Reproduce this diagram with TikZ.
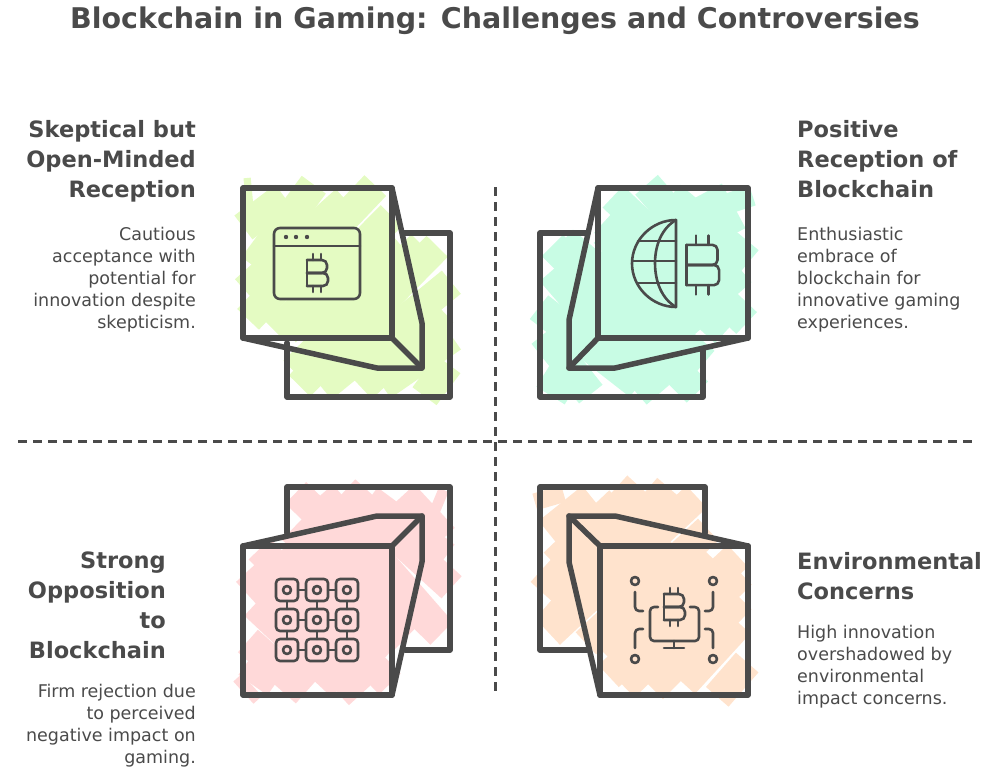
\documentclass[tikz,border=0pt]{standalone}
\usepackage{fontspec}
\setmainfont{DejaVu Sans}
\definecolor{ink}{HTML}{4A4A4A}
\definecolor{limefill}{HTML}{E4FBC2}
\definecolor{mintfill}{HTML}{C8FCE4}
\definecolor{pinkfill}{HTML}{FFD9D9}
\definecolor{peachfill}{HTML}{FFE3CD}

\newcommand{\scribble}[6]{%
    \begin{scope}[shift={(#2,#3)}, xscale=#6]
        \foreach \s in {20,50,...,\numexpr#4+#5-8\relax} {
            \pgfmathsetmacro{\pa}{rand*7}
            \pgfmathsetmacro{\pb}{rand*7}
            \pgfmathsetmacro{\la}{rand*4}
            \pgfmathsetmacro{\lb}{rand*4}
            \pgfmathsetmacro{\ax}{min(\s,#4)-6+\pa+\la}
            \pgfmathsetmacro{\ay}{\s-min(\s,#4)+6+\pa-\la}
            \pgfmathsetmacro{\bx}{\s-min(\s,#5)+6+\pb+\lb}
            \pgfmathsetmacro{\by}{min(\s,#5)-6+\pb-\lb}
            \draw[#1, line width=30pt] (\ax,\ay) -- (\bx,\by);
        }
    \end{scope}
}

\begin{document}
\begin{tikzpicture}[x=1pt, y=-1pt,
    outline/.style={draw=ink, line width=5.5pt, line join=round, line cap=round},
    glyph/.style={draw=ink, line width=2.6pt, line join=round, line cap=round},
    divider/.style={draw=ink, line width=3pt, dash pattern=on 9pt off 6pt},
    heading/.style={inner sep=0pt, text=ink, font=\fontsize{22.5}{30}\selectfont\bfseries},
    blurb/.style={inner sep=0pt, text=ink, font=\fontsize{17.5}{22}\selectfont},
    bitcoin/.pic={
        \draw[glyph, rounded corners=5pt] (-10,-13) -- (10,-13) -- (10,0) -- (-10,0);
        \draw[glyph, rounded corners=5pt] (-10,0) -- (11,0) -- (11,13) -- (-10,13);
        \draw[glyph] (-10,-13) -- (-10,13);
        \foreach \t in {-4,4} {
            \draw[glyph] (\t,-13) -- (\t,-19);
            \draw[glyph] (\t,13) -- (\t,19);
        }
    }]
    \useasboundingbox (0,0) rectangle (1003,776);
    \pgfmathsetseed{4242}

    \node[anchor=base, inner sep=0pt, text=ink, font=\fontsize{28.5}{30}\selectfont\bfseries] (title) at (495,29)
        {Blockchain in Gaming: Challenges and Controversies};

    % colour under the squares
    \scribble{limefill}{287}{233}{163}{164}{1}
    \scribble{limefill}{243}{188}{149}{150}{1}
    \scribble{mintfill}{703}{233}{163}{164}{-1}
    \scribble{mintfill}{748}{188}{150}{150}{-1}
    \scribble{pinkfill}{450}{487}{163}{163}{-1}
    \scribble{pinkfill}{392}{546}{149}{149}{-1}
    \scribble{peachfill}{540}{487}{165}{163}{1}
    \scribble{peachfill}{600}{546}{148}{149}{1}

    % top left
    \draw[outline] (403,233) -- (450,233) -- (450,397) -- (287,397) -- (287,343);
    \draw[outline] (392,188) -- (422,323) -- (422,368) -- (377,368) -- (243,338);
    \draw[outline] (392,338) -- (422,368);
    \draw[outline] (243,188) rectangle (392,338);
    \draw[glyph, rounded corners=6pt] (274,228) rectangle (360,299);
    \draw[glyph] (274,246) -- (360,246);
    \foreach \x in {286,296,307} \fill[ink] (\x,237) circle (2.2);
    \pic[scale=1] at (317,273) {bitcoin};

    % top right
    \draw[outline] (588,233) -- (540,233) -- (540,397) -- (703,397) -- (703,350);
    \draw[outline] (598,188) -- (569,320) -- (569,368) -- (615,368) -- (748,338);
    \draw[outline] (598,338) -- (569,368);
    \draw[outline] (598,188) rectangle (748,338);
    \draw[glyph] (676,220) .. controls (652,220) and (632,240) .. (632,263.5)
        .. controls (632,287) and (652,307) .. (676,307) -- cycle;
    \draw[glyph] (676,220) .. controls (662,228) and (655,245) .. (655,263)
        .. controls (655,282) and (662,299) .. (676,307);
    \draw[glyph] (638,241) -- (676,241);
    \draw[glyph] (632,261) -- (676,261);
    \draw[glyph] (637,283) -- (676,283);
    \pic[scale=1.55] at (702,265) {bitcoin};

    % bottom left
    \draw[outline] (405,650) -- (450,650) -- (450,487) -- (287,487) -- (287,533);
    \draw[outline] (243,546) -- (377,516) -- (422,516) -- (422,562) -- (392,695);
    \draw[outline] (392,546) -- (422,516);
    \draw[outline] (243,546) rectangle (392,695);
    \foreach \x in {287,317,347} {
        \foreach \y in {590,620,650} {
            \draw[glyph, rounded corners=4pt] (\x-11,\y-11) rectangle (\x+11,\y+11);
            \draw[glyph] (\x,\y) circle (4);
        }
        \draw[glyph] (\x,601) -- (\x,609);
        \draw[glyph] (\x,631) -- (\x,639);
    }
    \foreach \y in {590,620,650} {
        \draw[glyph] (298,\y) -- (306,\y);
        \draw[glyph] (328,\y) -- (336,\y);
    }

    % bottom right
    \draw[outline] (705,533) -- (705,487) -- (540,487) -- (540,650) -- (587,650);
    \draw[outline] (748,546) -- (615,516) -- (569,516) -- (569,562) -- (600,695);
    \draw[outline] (569,516) -- (600,546);
    \draw[outline] (600,546) rectangle (748,695);
    \foreach \x in {635,713} {
        \draw[glyph] (\x,581) circle (4);
        \draw[glyph] (\x,659) circle (4);
    }
    \draw[glyph, rounded corners=4pt] (635,592) -- (635,611) -- (643,611);
    \draw[glyph, rounded corners=4pt] (713,592) -- (713,611) -- (705,611);
    \draw[glyph, rounded corners=4pt] (635,648) -- (635,629) -- (643,629);
    \draw[glyph, rounded corners=4pt] (713,648) -- (713,629) -- (705,629);
    \draw[glyph, rounded corners=4pt] (658,607) -- (650,607) -- (650,641) -- (699,641) -- (699,607) -- (690,607);
    \draw[glyph] (674,641) -- (674,648);
    \draw[glyph] (664,648) -- (684,648);
    \pic[scale=1] at (674,607) {bitcoin};

    % dividers
    \coordinate (vtop) at (495,187);
    \coordinate (vbot) at (495,695);
    \coordinate (hleft) at (18,441);
    \coordinate (hright) at (975,441);
    \draw[divider] (vtop) -- (vbot);
    \draw[divider] (hleft) -- (hright);

    \node[heading, anchor=north east, align=right] (headtl) at (196,120.5)
        {Skeptical but\\Open-Minded\\Reception};
    \node[blurb, anchor=north east, align=right] (texttl) at (196,227)
        {Cautious\\acceptance with\\potential for\\innovation despite\\skepticism.};
    \node[heading, anchor=north west, align=left] (headtr) at (797,120.5)
        {Positive\\Reception of\\Blockchain};
    \node[blurb, anchor=north west, align=left] (texttr) at (797,227)
        {Enthusiastic\\embrace of\\blockchain for\\innovative gaming\\experiences.};
    \node[heading, anchor=north east, align=right] (headbl) at (166,552)
        {Strong\\Opposition\\to\\Blockchain};
    \node[blurb, anchor=north east, align=right] (textbl) at (196,684)
        {Firm rejection due\\to perceived\\negative impact on\\gaming.};
    \node[heading, anchor=north west, align=left] (headbr) at (797,552)
        {Environmental\\Concerns};
    \node[blurb, anchor=north west, align=left] (textbr) at (797,625)
        {High innovation\\overshadowed by\\environmental\\impact concerns.};
\end{tikzpicture}
\end{document}
